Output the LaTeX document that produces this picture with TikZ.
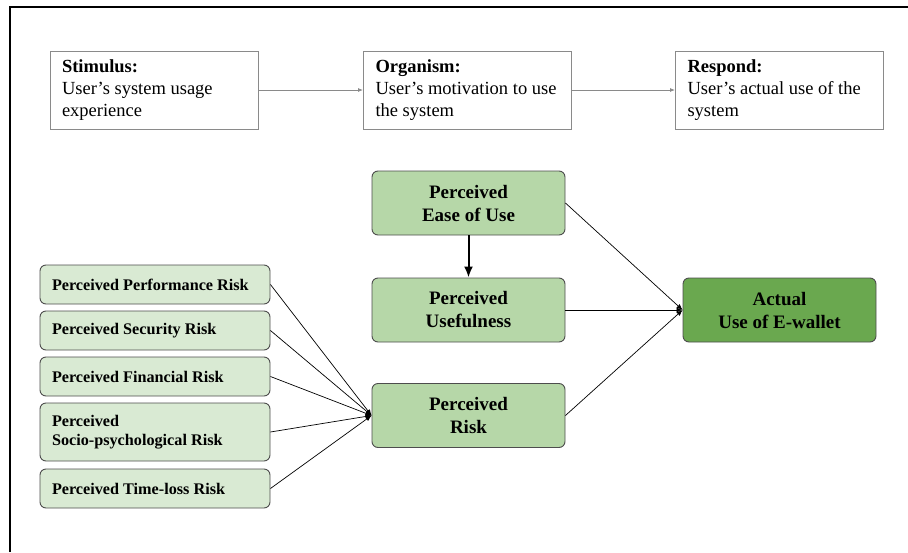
\documentclass[tikz,border=0pt]{standalone}
\usepackage{fontspec}
\setmainfont{Liberation Serif}
\usetikzlibrary{arrows.meta}

\definecolor{riskfill}{HTML}{D9EAD3}
\definecolor{midfill}{HTML}{B6D7A8}
\definecolor{actfill}{HTML}{6AA84F}
\definecolor{sorgray}{HTML}{8A8A8A}
\definecolor{boxline}{HTML}{4D4D4D}

\begin{document}
\begin{tikzpicture}[x=1pt,y=-1pt]
\tikzset{sorbox/.style = {draw=sorgray, line width=0.9pt, minimum width=208pt, minimum height=78pt, text width=184pt, inner xsep=12pt, align=flush left, font=\fontsize{18.5}{22}\selectfont}}
\tikzset{sorarrow/.style = {-{Latex[length=5pt,width=4pt]}, draw=sorgray, line width=0.9pt}}
\tikzset{construct/.style = {draw=boxline, line width=0.9pt, rounded corners=6pt, fill=midfill, minimum width=193pt, minimum height=64pt, align=center, font=\fontsize{19}{23}\selectfont\bfseries}}
\tikzset{riskbox/.style = {draw=boxline, line width=0.9pt, rounded corners=6pt, fill=riskfill, minimum width=230pt, minimum height=39pt, text width=206pt, inner xsep=12pt, align=flush left, font=\fontsize{16.2}{19}\selectfont\bfseries}}
\tikzset{path/.style = {-{Latex[length=6pt,width=5pt]}, line width=0.7pt}}
\useasboundingbox (0,0) rectangle (908,552);
\draw[line width=2pt] (10,552) -- (10,7) -- (908,7);
% S-O-R framework
\node[sorbox](stim) at (154,90) {\textbf{Stimulus:}\\User's system usage\\experience};
\node[sorbox](org) at (467.5,90) {\textbf{Organism:}\\User's motivation to use\\the system};
\node[sorbox](resp) at (779.5,90) {\textbf{Respond:}\\User's actual use of the\\system};
\draw[sorarrow] (stim) -- (org);
\draw[sorarrow] (org) -- (resp);
% research model
\node[construct](peou) at (468.5,203) {Perceived\\Ease of Use};
\node[construct](pu) at (468.5,310) {Perceived\\Usefulness};
\node[construct](pr) at (468.5,415.5) {Perceived\\Risk};
\node[construct, fill=actfill](act) at (779.5,310) {Actual\\Use of E-wallet};
\node[riskbox](perf) at (155,284.5) {Perceived Performance Risk};
\node[riskbox](sec) at (155,330.5) {Perceived Security Risk};
\node[riskbox](fin) at (155,376.5) {Perceived Financial Risk};
\node[riskbox, minimum height=58pt](soc) at (155,432) {Perceived\\Socio-psychological Risk};
\node[riskbox](time) at (155,488.5) {Perceived Time-loss Risk};
\draw[-{Latex[length=11pt,width=9pt]}, line width=2pt] (peou) -- (pu);
\draw[path] (peou.east) -- (act.west);
\draw[path] (pu.east) -- (act.west);
\draw[path] (pr.east) -- (act.west);
\foreach \r in {perf,sec,fin,soc,time}
  \draw[path] (\r.east) -- (pr.west);
\end{tikzpicture}
\end{document}
